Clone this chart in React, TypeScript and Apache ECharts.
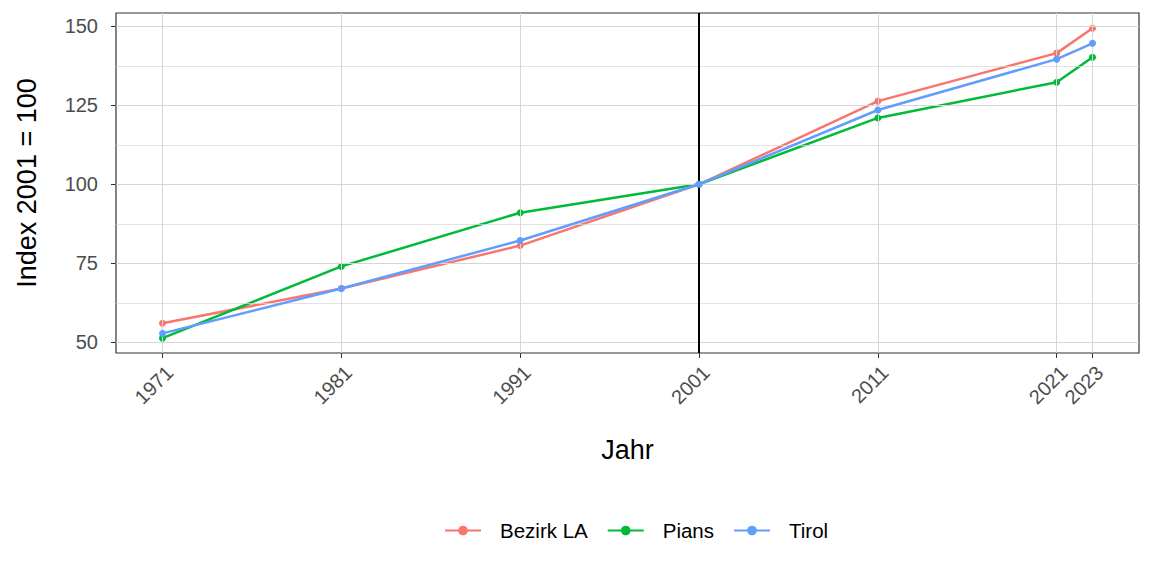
import React, { useEffect, useRef } from "react";
import * as echarts from "echarts";

const years = [1971, 1981, 1991, 2001, 2011, 2021, 2023];
const bezirkLA = [56.0, 67.0, 80.6, 100, 126.3, 141.5, 149.4];
const pians = [51.3, 74.0, 91.0, 100, 121.0, 132.3, 140.2];
const tirol = [52.8, 67.0, 82.2, 100, 123.5, 139.6, 144.6];
const yTicks = [50, 75, 100, 125, 150];
const yMinor = [62.5, 87.5, 112.5, 137.5];
const seriesNames = ["Bezirk LA", "Pians", "Tirol"];
const seriesColors = ["#F8766D", "#00BA38", "#619CFF"];
const refYear = 2001;

const FONT = "Liberation Sans, Arial, sans-serif";

export default function App() {
  const ref = useRef<HTMLDivElement>(null);
  useEffect(() => {
    if (!ref.current) return;
    const chart = echarts.init(ref.current, undefined, { renderer: "svg" });
    const values = [bezirkLA, pians, tirol];
    const gridLine = { color: "#D6D6D6", width: 1, type: "solid" };
    const markData: any[] = [
      ...years.map((y) => ({ xAxis: y, lineStyle: gridLine })),
      ...yTicks.map((v) => ({ yAxis: v, lineStyle: gridLine })),
      ...yMinor.map((v) => ({ yAxis: v, lineStyle: { ...gridLine, width: 0.7 } })),
    ];
    chart.setOption({
      animation: false,
      backgroundColor: "#FFFFFF",
      textStyle: { fontFamily: FONT },
      grid: {
        left: 108,
        right: 5,
        top: 5,
        bottom: 215,
        containLabel: false,
        outerBoundsMode: "none",
        show: true,
        borderColor: "#333333",
        borderWidth: 1.2,
        backgroundColor: "transparent",
      },
      legend: {
        data: seriesNames,
        top: 507,
        left: 431,
        itemWidth: 36,
        itemHeight: 12,
        itemGap: 19,
        textStyle: { fontSize: 20.5, color: "#000000", fontFamily: FONT, padding: [0, 0, 0, 14] },
      },
      xAxis: {
        type: "value",
        min: 1968.4,
        max: 2025.6,
        name: "Jahr",
        nameLocation: "middle",
        nameGap: 83,
        nameTextStyle: { fontSize: 27, color: "#000000", fontFamily: FONT },
        axisLine: { show: false },
        splitLine: { show: false },
        axisTick: { show: true, length: 5, customValues: years, lineStyle: { color: "#333333", width: 1 } },
        axisLabel: {
          customValues: years,
          rotate: 45,
          align: "right",
          verticalAlign: "top",
          fontSize: 20,
          color: "#4D4D4D",
          fontFamily: FONT,
          margin: 9,
          formatter: (v: number) => String(Math.round(v)),
        },
      },
      yAxis: {
        type: "value",
        min: 46.6,
        max: 154.2,
        name: "Index 2001 = 100",
        nameLocation: "middle",
        nameGap: 76,
        nameRotate: 90,
        nameTextStyle: { fontSize: 27, color: "#000000", fontFamily: FONT },
        axisLine: { show: false },
        splitLine: { show: false },
        axisTick: { show: true, length: 5, customValues: yTicks, lineStyle: { color: "#333333", width: 1 } },
        axisLabel: {
          customValues: yTicks,
          fontSize: 20,
          color: "#4D4D4D",
          fontFamily: FONT,
          margin: 18,
        },
      },
      series: [
        {
          name: "__grid",
          type: "line",
          z: 1,
          data: [[refYear, 100]],
          showSymbol: false,
          symbol: "none",
          lineStyle: { opacity: 0 },
          silent: true,
          markLine: {
            silent: true,
            symbol: ["none", "none"],
            label: { show: false },
            animation: false,
            data: markData,
          },
        },
        {
          name: "__ref",
          type: "line",
          z: 2,
          data: [[refYear, 100]],
          showSymbol: false,
          symbol: "none",
          lineStyle: { opacity: 0 },
          silent: true,
          markLine: {
            silent: true,
            symbol: ["none", "none"],
            label: { show: false },
            animation: false,
            data: [{ xAxis: refYear, lineStyle: { color: "#000000", width: 2, type: "solid" } }],
          },
        },
        ...seriesNames.map((name, i) => ({
          name,
          type: "line",
          z: 3 + i,
          data: years.map((y, j) => [y, values[i][j]]),
          symbol: "circle",
          symbolSize: 7,
          itemStyle: { color: seriesColors[i] },
          lineStyle: { color: seriesColors[i], width: 2.5 },
        })),
      ],
    });
    return () => chart.dispose();
  }, []);
  return <div ref={ref} style={{ width: 1136, height: 560 }} />;
}
